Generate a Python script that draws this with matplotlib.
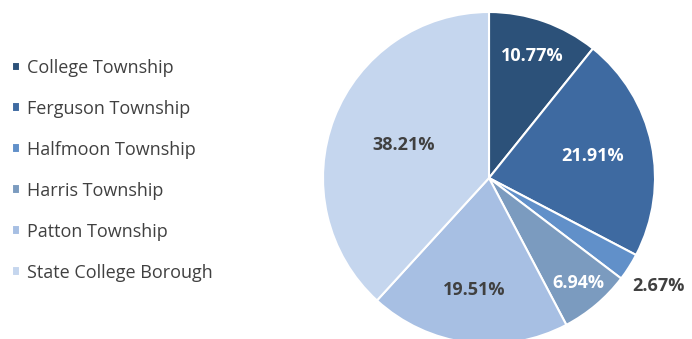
import matplotlib.pyplot as plt
import numpy as np

# share of each municipality (percent)
places = ["College Township", "Ferguson Township", "Halfmoon Township",
          "Harris Township", "Patton Township", "State College Borough"]
shares = [10.77, 21.91, 2.67, 6.94, 19.51, 38.21]

colors = ["#2c5179", "#3e6aa1", "#6190c9", "#7b9bbf", "#a7bfe3", "#c5d6ee"]
txt_colors = ["white", "white", "#404040", "white", "#404040", "#404040"]
lbl_dist = [0.78, 0.64, 1.21, 0.83, 0.68, 0.55]

plt.rcParams['font.family'] = ['Open Sans', 'DejaVu Sans']

fig = plt.figure(figsize=(6.92, 3.39), dpi=100)
# pie centre ~ (489,178) px, radius ~166 px
ax = fig.add_axes([(489 - 166) / 692, (161 - 166) / 339, 332 / 692, 332 / 339])

wedges, _ = ax.pie(shares, colors=colors, startangle=90, counterclock=False,
                   wedgeprops=dict(edgecolor="white", linewidth=1.5))
ax.set_xlim(-1, 1)
ax.set_ylim(-1, 1)
ax.set_aspect("equal")
ax.axis("off")

for w, val, c, d in zip(wedges, shares, txt_colors, lbl_dist):
    ang = np.deg2rad((w.theta1 + w.theta2) / 2)
    ax.text(d * np.cos(ang), d * np.sin(ang), "%.2f%%" % val, ha="center",
            va="center", fontsize=13, fontweight="bold", color=c)

leg = fig.legend(wedges, places, loc="center left", bbox_to_anchor=(12 / 692, 0.498),
                 frameon=False, fontsize=13, handlelength=0.45, handleheight=0.45,
                 handletextpad=0.4, labelspacing=1.27, labelcolor="#404040",
                 borderaxespad=0, borderpad=0)

fig.savefig("out.png", dpi=100)
